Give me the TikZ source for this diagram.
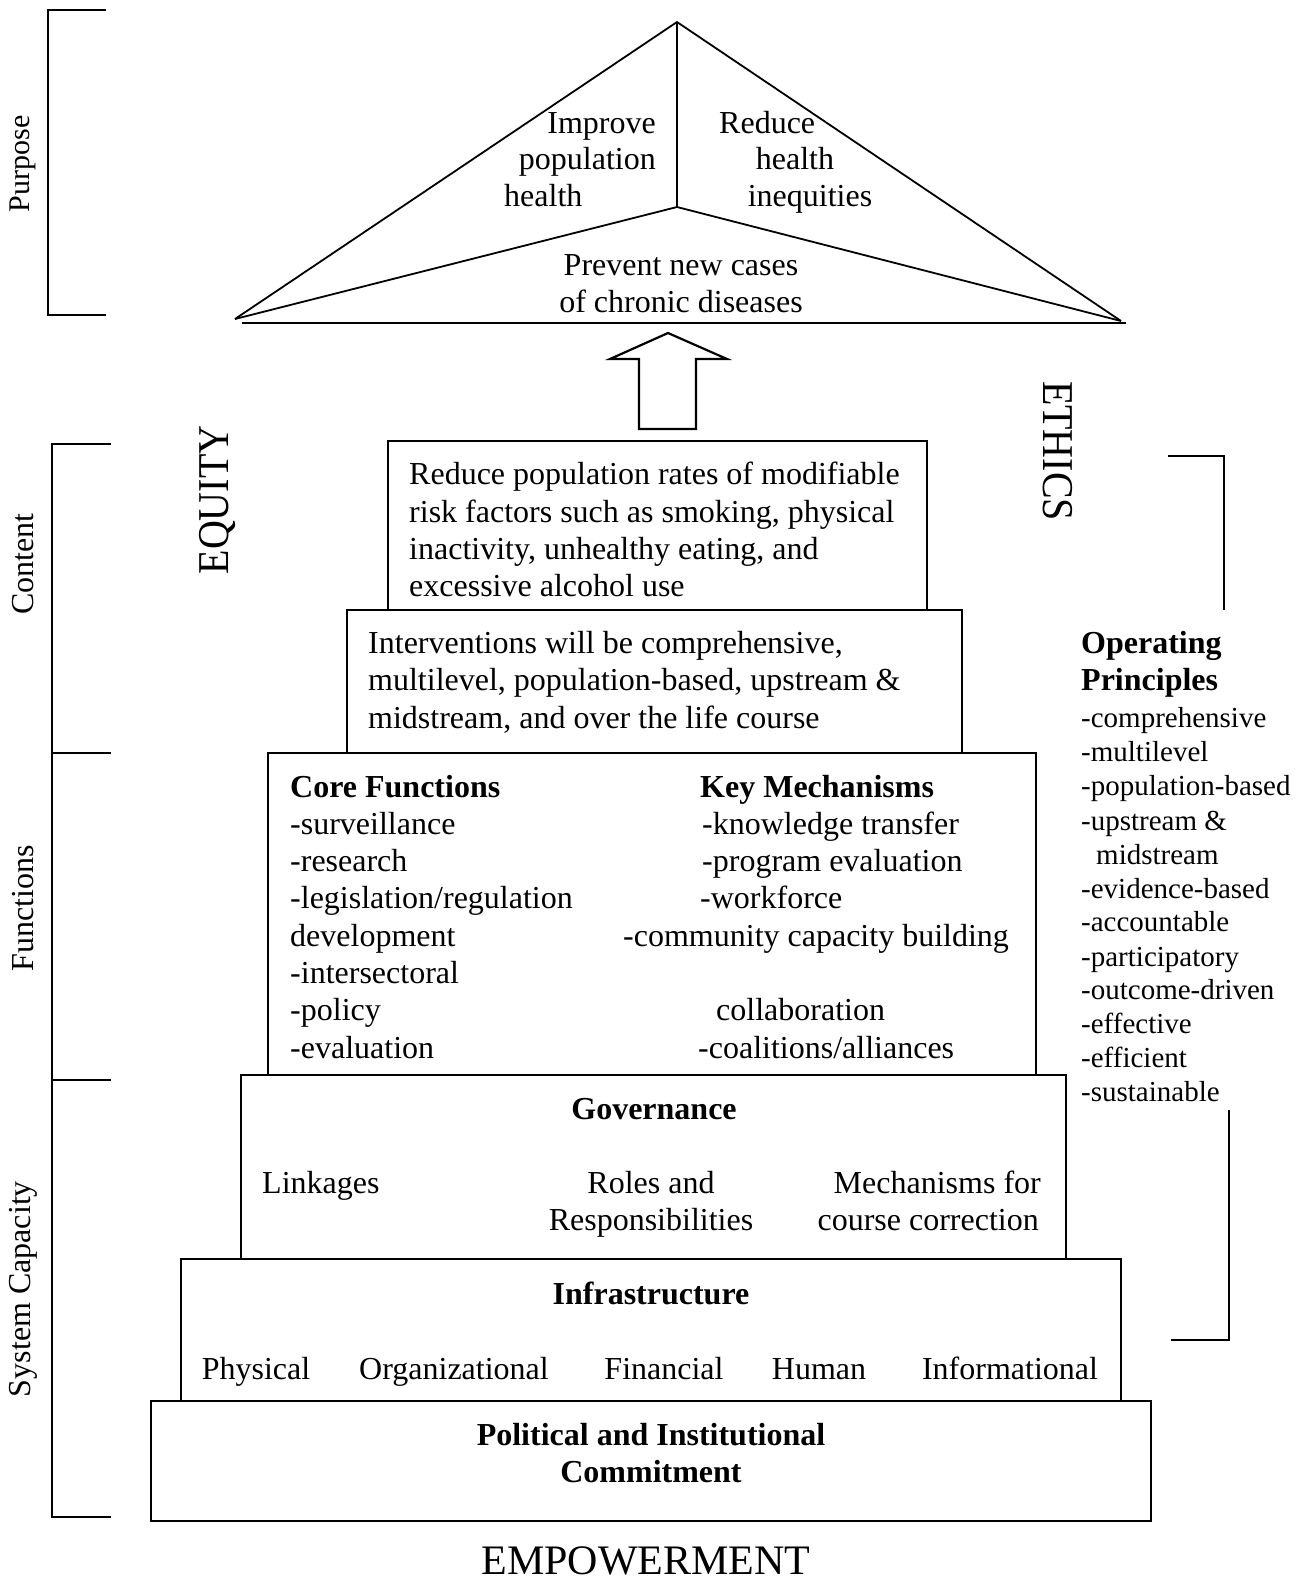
\documentclass[tikz,border=0pt]{standalone}
\usepackage{fontspec}
\setmainfont{Liberation Serif}
\begin{document}
\begin{tikzpicture}[x=1pt,y=-1pt,
  box/.style={draw, line width=2.4pt},
  ln/.style={line width=1.8pt},
  txt/.style={inner sep=0pt, anchor=base west, font=\fontsize{32}{37}\selectfont},
  ctxt/.style={inner sep=0pt, anchor=base, font=\fontsize{32}{37}\selectfont},
  rtxt/.style={inner sep=0pt, anchor=base east, font=\fontsize{32}{37}\selectfont},
  btxt/.style={inner sep=0pt, anchor=base west, font=\fontsize{32}{37}\selectfont\bfseries},
  cbtxt/.style={inner sep=0pt, anchor=base, font=\fontsize{32}{37}\selectfont\bfseries},
  side/.style={inner sep=0pt, font=\fontsize{32}{37}\selectfont, rotate=90},
  big/.style={inner sep=0pt, font=\fontsize{40}{46}\selectfont},
  op/.style={inner sep=0pt, anchor=base west, font=\fontsize{29}{34}\selectfont},
  opb/.style={inner sep=0pt, anchor=base west, font=\fontsize{32}{37}\selectfont\bfseries}]
\useasboundingbox (0,0) rectangle (1305,1583);

% ---- left brackets
\draw[ln] (106,10) -- (48,10) -- (48,315) -- (106,315);
\node[side, font=\fontsize{30}{35}\selectfont] (purpose) at (23,164) {Purpose};
\draw[ln] (111,444) -- (52,444) -- (52,1517) -- (111,1517);
\draw[ln] (52,753) -- (111,753);
\draw[ln] (52,1080) -- (111,1080);
\node[side] (content) at (23,564) {Content};
\node[side] (functions) at (23,908) {Functions};
\node[side] (syscap) at (23,1289) {System Capacity};

% ---- triangle
\coordinate (apex) at (677,22);
\coordinate (tl) at (235,319);
\coordinate (tr) at (1121,321);
\coordinate (tc) at (677,207);
\draw[line width=1.8pt, line join=miter] (tl) -- (apex) -- (tr);
\draw[line width=1.8pt] (apex) -- (tc);
\draw[line width=1.8pt] (tl) -- (tc) -- (tr);
\draw[line width=2.6pt] (242,323) -- (1126,323);
\node[rtxt] (imp1) at (656,133) {Improve};
\node[rtxt] (imp2) at (656,169) {population};
\node[txt] (imp3) at (504,206) {health};
\node[txt] (red1) at (719,133) {Reduce};
\node[ctxt] (red2) at (795,169) {health};
\node[ctxt] (red3) at (810,206) {inequities};
\node[ctxt] (prev1) at (681,275) {Prevent new cases};
\node[ctxt] (prev2) at (681,312) {of chronic diseases};

% ---- block arrow
\draw[line width=2.2pt, line join=miter]
  (668,333) -- (727,359) -- (696,359) -- (696,429) -- (639,429) -- (639,359) -- (610,359) -- cycle;

% ---- EQUITY / ETHICS
\node[big, rotate=90] (equity) at (217,500) {\scalebox{1}[1.1]{EQUITY}};
\node[big, rotate=-90] (ethics) at (1058,451) {\scalebox{1}[1.1]{ETHICS}};

% ---- box 1
\draw[box] (388,441) rectangle (927,610);
\node[txt] (b1a) at (409,484) {Reduce population rates of modifiable};
\node[txt] (b1b) at (409,522) {risk factors such as smoking, physical};
\node[txt] (b1c) at (409,559) {inactivity, unhealthy eating, and};
\node[txt] (b1d) at (409,596) {excessive alcohol use};

% ---- box 2
\draw[box] (347,610) rectangle (962,753);
\node[txt] (b2a) at (368,653) {Interventions will be comprehensive,};
\node[txt] (b2b) at (368,690) {multilevel, population-based, upstream \&};
\node[txt] (b2c) at (368,728) {midstream, and over the life course};

% ---- box 3
\draw[box] (268,753) rectangle (1036,1075);
\node[btxt] (cf) at (290,797) {Core Functions};
\node[txt] (cf1) at (290,834) {-surveillance};
\node[txt] (cf2) at (290,871) {-research};
\node[txt] (cf3) at (290,908) {-legislation/regulation};
\node[txt] (cf4) at (290,946) {development};
\node[txt] (cf5) at (290,983) {-intersectoral};
\node[txt] (cf6) at (290,1020) {-policy};
\node[txt] (cf7) at (290,1058) {-evaluation};
\node[btxt] (km) at (700,797) {Key Mechanisms};
\node[txt] (km1) at (702,834) {-knowledge transfer};
\node[txt] (km2) at (702,871) {-program evaluation};
\node[txt] (km3) at (700,908) {-workforce};
\node[txt] (km4) at (623,946) {-community capacity building};
\node[txt] (km5) at (716,1020) {collaboration};
\node[txt] (km6) at (698,1058) {-coalitions/alliances};

% ---- box 4
\draw[box] (241,1075) rectangle (1066,1259);
\node[cbtxt] (gov) at (654,1119) {Governance};
\node[txt] (link) at (262,1193) {Linkages};
\node[ctxt] (roles1) at (651,1193) {Roles and};
\node[ctxt] (roles2) at (651,1230) {Responsibilities};
\node[rtxt] (mech1) at (1041,1193) {Mechanisms for};
\node[rtxt] (mech2) at (1039,1230) {course correction};

% ---- box 5
\draw[box] (181,1259) rectangle (1121,1401);
\node[cbtxt] (infra) at (651,1304) {Infrastructure};
\node[ctxt] (phys) at (256,1379) {Physical};
\node[ctxt] (org) at (454,1379) {Organizational};
\node[ctxt] (fin) at (664,1379) {Financial};
\node[ctxt] (hum) at (819,1379) {Human};
\node[ctxt] (info) at (1010,1379) {Informational};

% ---- box 6
\draw[box] (151,1401) rectangle (1151,1521);
\node[cbtxt] (pol1) at (651,1445) {Political and Institutional};
\node[cbtxt] (pol2) at (651,1482) {Commitment};

% ---- EMPOWERMENT
\node[inner sep=0pt, anchor=base, font=\fontsize{42}{48}\selectfont] (emp) at (646,1574) {EMPOWERMENT};

% ---- right bracket and operating principles
\draw[ln] (1168,456) -- (1224,456) -- (1224,610);
\draw[ln] (1229,1110) -- (1229,1340) -- (1171,1340);
\node[opb] (op1) at (1081,653) {Operating};
\node[opb] (op2) at (1081,690) {Principles};
\node[op] (o1) at (1081,727) {-comprehensive};
\node[op] (o2) at (1081,761) {-multilevel};
\node[op] (o3) at (1081,795) {-population-based};
\node[op] (o4) at (1081,830) {-upstream \&};
\node[op] (o5) at (1096,864) {midstream};
\node[op] (o6) at (1081,898) {-evidence-based};
\node[op] (o7) at (1081,931) {-accountable};
\node[op] (o8) at (1081,966) {-participatory};
\node[op] (o9) at (1081,999) {-outcome-driven};
\node[op] (o10) at (1081,1033) {-effective};
\node[op] (o11) at (1081,1067) {-efficient};
\node[op] (o12) at (1081,1101) {-sustainable};
\end{tikzpicture}
\end{document}
